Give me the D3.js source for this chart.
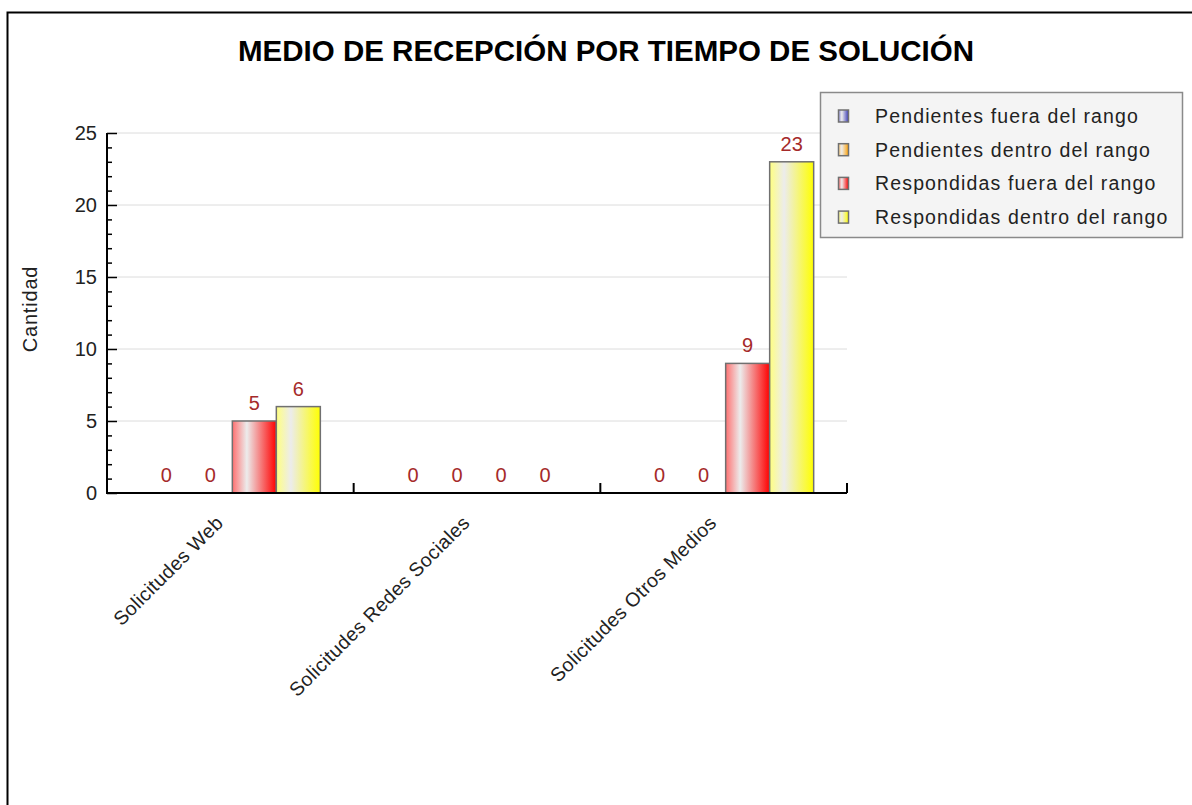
<!DOCTYPE html>
<html><head><meta charset="utf-8">
<script src="https://cdn.jsdelivr.net/npm/d3@7"></script>
<style>html,body{margin:0;padding:0;background:#fff;}svg{display:block;font-family:"Liberation Sans",Arial,sans-serif;}</style>
</head><body>
<svg id="chart" width="1192" height="805"></svg>
<script>
const title = "MEDIO DE RECEPCIÓN POR TIEMPO DE SOLUCIÓN";
const yLabel = "Cantidad";
const categories = ["Solicitudes Web", "Solicitudes Redes Sociales", "Solicitudes Otros Medios"];
const seriesNames = ["Pendientes fuera del rango", "Pendientes dentro del rango", "Respondidas fuera del rango", "Respondidas dentro del rango"];
const pendFuera = [0, 0, 0];
const pendDentro = [0, 0, 0];
const respFuera = [5, 0, 9];
const respDentro = [6, 0, 23];
const yTicks = [0, 5, 10, 15, 20, 25];
const seriesColors = ["#3a3ab8", "#ffa000", "#ff0000", "#ffff00"];
const seriesLight = ["#9090d8", "#ffd080", "#ff7070", "#ffff80"];

const values = [pendFuera, pendDentro, respFuera, respDentro];
const svg = d3.select("#chart");

// frame
svg.append("rect").attr("x", 7.5).attr("y", 12.5).attr("width", 1300).attr("height", 900)
  .attr("fill", "#fff").attr("stroke", "#000").attr("stroke-width", 2);

// gradients
const defs = svg.append("defs");
seriesColors.forEach((c, i) => {
  const g = defs.append("linearGradient").attr("id", "g" + i).attr("x1", "0").attr("x2", "1").attr("y1", "0").attr("y2", "0");
  g.append("stop").attr("offset", "0%").attr("stop-color", seriesLight[i]);
  g.append("stop").attr("offset", "33%").attr("stop-color", "#ececec");
  g.append("stop").attr("offset", "100%").attr("stop-color", c);
});

const plot = {left: 107, right: 847, top: 133, bottom: 493};
const y = d3.scaleLinear().domain([0, 25]).range([plot.bottom, plot.top]);
const x0 = d3.scaleBand().domain(categories).range([plot.left, plot.right]).padding(0);
const innerW = 176;
const x1 = d3.scaleBand().domain(seriesNames).range([0, innerW]).padding(0);
const groupOffset = (x0.bandwidth() - innerW) / 2 + 2;

// title
svg.append("text").attr("x", 606).attr("y", 61).attr("text-anchor", "middle")
  .attr("font-size", 29.5).attr("font-weight", "bold").attr("fill", "#000").text(title);

// gridlines
svg.append("g").selectAll("line").data(yTicks.filter(d => d > 0)).join("line")
  .attr("x1", plot.left).attr("x2", plot.right).attr("y1", d => y(d)).attr("y2", d => y(d))
  .attr("stroke", "#dcdcdc").attr("stroke-width", 1);

// bars
const bars = [];
categories.forEach((c, ci) => seriesNames.forEach((s, si) => bars.push({c, s, si, v: values[si][ci]})));
svg.append("g").selectAll("rect").data(bars.filter(d => d.v > 0)).join("rect")
  .attr("x", d => x0(d.c) + groupOffset + x1(d.s))
  .attr("y", d => y(d.v))
  .attr("width", x1.bandwidth())
  .attr("height", d => y(0) - y(d.v))
  .attr("fill", d => `url(#g${d.si})`)
  .attr("stroke", "#707070").attr("stroke-width", 1.5);

// value labels
svg.append("g").selectAll("text").data(bars).join("text")
  .attr("x", d => x0(d.c) + groupOffset + x1(d.s) + x1.bandwidth() / 2)
  .attr("y", d => y(d.v) - 11)
  .attr("text-anchor", "middle").attr("font-size", 20).attr("fill", "#a52a2a")
  .text(d => d.v);

// y axis
const yAxis = d3.axisRight(y).tickValues(d3.range(0, 26, 1)).tickFormat("").tickSize(5).tickSizeOuter(0);
const yg = svg.append("g").attr("transform", `translate(${plot.left},0)`).call(yAxis);
yg.select(".domain").remove();
yg.selectAll(".tick line").attr("stroke", "#000").attr("stroke-width", 1.5)
  .attr("x2", d => d % 5 === 0 ? 10 : 5);
svg.append("line").attr("x1", plot.left).attr("x2", plot.left).attr("y1", plot.top).attr("y2", plot.bottom + 1)
  .attr("stroke", "#000").attr("stroke-width", 2);
svg.append("g").selectAll("text").data(yTicks).join("text")
  .attr("x", 97).attr("y", d => y(d) + 7).attr("text-anchor", "end")
  .attr("font-size", 20).attr("fill", "#222").text(d => d);

// y label
svg.append("text").attr("transform", `translate(37,309) rotate(-90)`).attr("text-anchor", "middle")
  .attr("font-size", 20).attr("letter-spacing", 0.8).attr("fill", "#222").text(yLabel);

// x axis
svg.append("line").attr("x1", plot.left).attr("x2", plot.right).attr("y1", plot.bottom).attr("y2", plot.bottom)
  .attr("stroke", "#000").attr("stroke-width", 2);
const xTickPos = categories.map(c => x0(c) + x0.bandwidth());
svg.append("g").selectAll("line").data(xTickPos).join("line")
  .attr("x1", d => d).attr("x2", d => d).attr("y1", plot.bottom).attr("y2", plot.bottom - 10)
  .attr("stroke", "#000").attr("stroke-width", 2);

// x labels
svg.append("g").selectAll("text").data(categories).join("text")
  .attr("transform", c => `translate(${x0(c) + x0.bandwidth() / 2 - 6},${plot.bottom + 31}) rotate(-45)`)
  .attr("text-anchor", "end").attr("font-size", 19.5).attr("letter-spacing", 0.4).attr("fill", "#222").text(c => c);

// legend
const lg = svg.append("g");
lg.append("rect").attr("x", 820.5).attr("y", 92.5).attr("width", 362).attr("height", 145)
  .attr("fill", "#f4f4f4").attr("stroke", "#8a8a8a").attr("stroke-width", 1.5);
seriesNames.forEach((s, i) => {
  const cy = 116 + i * 33.7;
  lg.append("rect").attr("x", 838.5).attr("y", cy - 6).attr("width", 10).attr("height", 12)
    .attr("fill", `url(#g${i})`).attr("stroke", "#707070").attr("stroke-width", 1.5);
  lg.append("text").attr("x", 875).attr("y", cy + 7).attr("font-size", 19.5).attr("letter-spacing", 1.15)
    .attr("fill", "#222").text(s);
});
</script>
</body></html>
